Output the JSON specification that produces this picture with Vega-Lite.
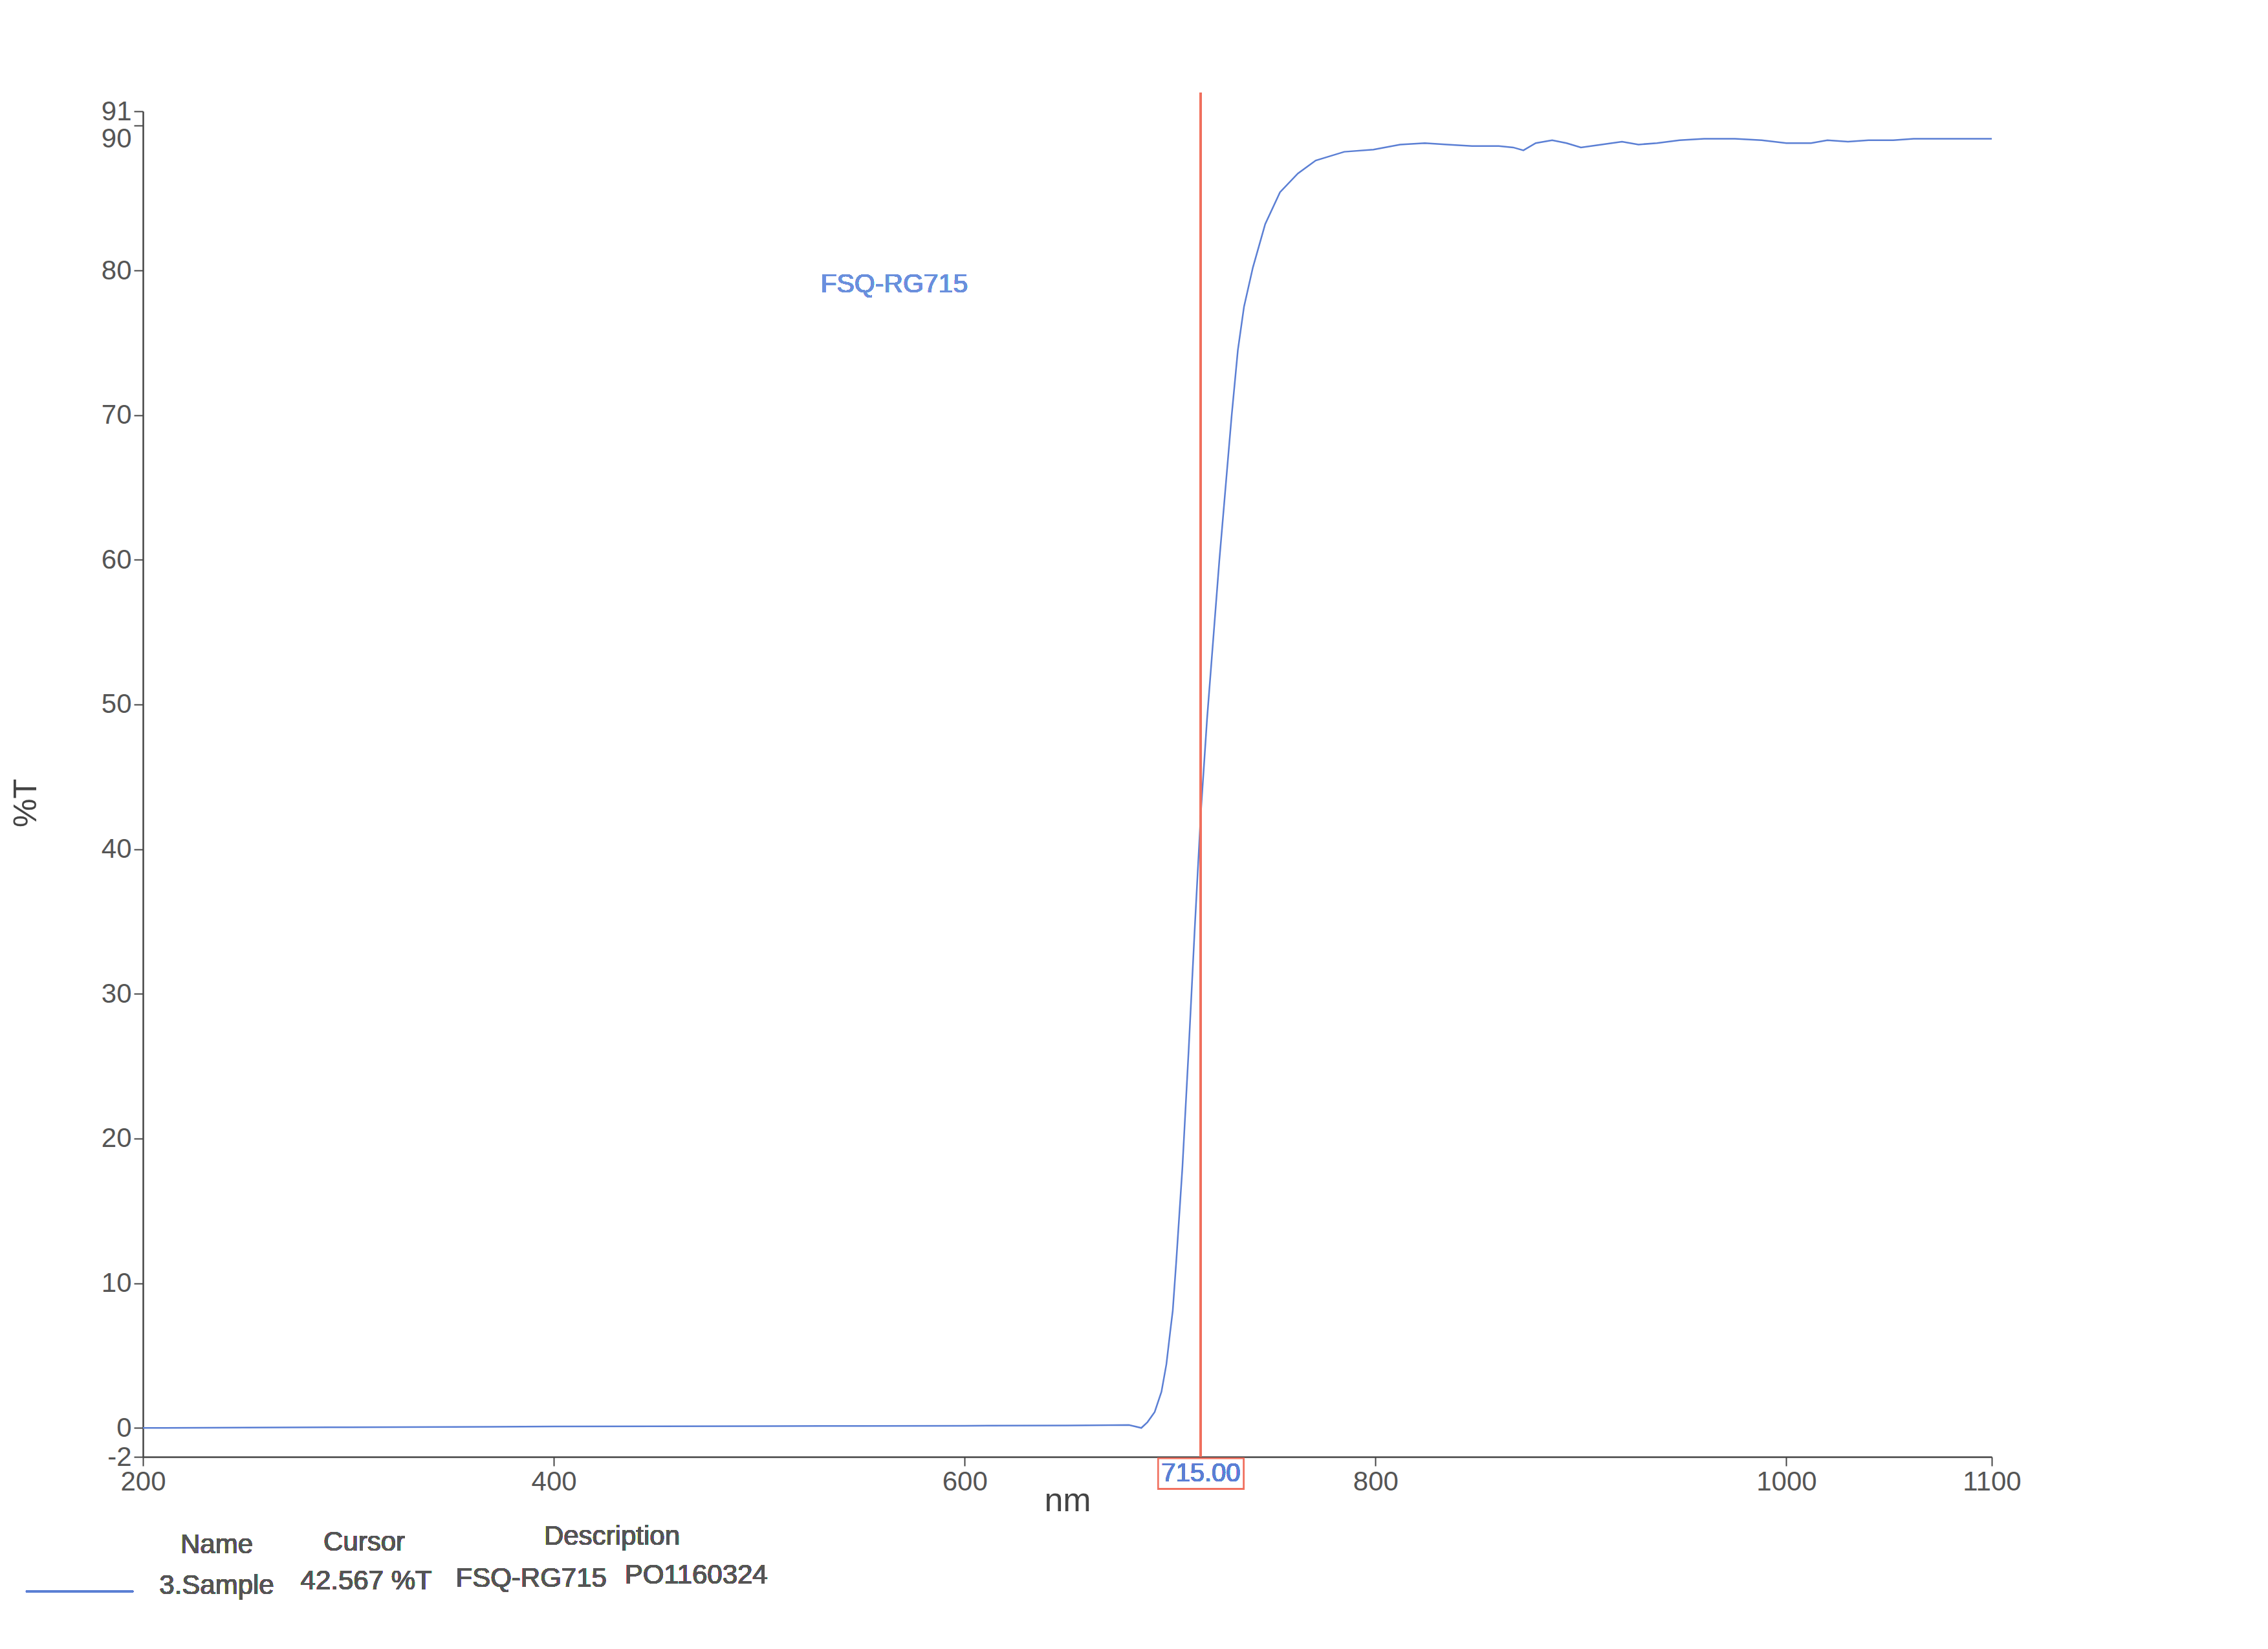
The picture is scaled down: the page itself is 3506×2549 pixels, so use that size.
{
  "$schema": "https://vega.github.io/schema/vega-lite/v6.json",
  "width": 2858,
  "height": 2080,
  "autosize": "none",
  "padding": {"left": 221, "top": 172, "right": 427, "bottom": 297},
  "background": "white",
  "config": {
    "view": {"stroke": null},
    "font": "Liberation Sans",
    "text": {"font": "Liberation Sans", "fontWeight": "normal"}
  },
  "data": {
    "values": [
      {"nm": 200, "T": 0.0}, {"nm": 250, "T": 0.02}, {"nm": 300, "T": 0.05}, {"nm": 350, "T": 0.07},
      {"nm": 400, "T": 0.1}, {"nm": 450, "T": 0.11}, {"nm": 500, "T": 0.12}, {"nm": 550, "T": 0.14},
      {"nm": 600, "T": 0.15}, {"nm": 650, "T": 0.17}, {"nm": 680, "T": 0.2}, {"nm": 683, "T": 0.1},
      {"nm": 686, "T": 0.0}, {"nm": 689, "T": 0.4}, {"nm": 692.5, "T": 1.1}, {"nm": 695.8, "T": 2.5},
      {"nm": 698.2, "T": 4.4}, {"nm": 700.1, "T": 6.7}, {"nm": 701.3, "T": 8.1}, {"nm": 703, "T": 11.5},
      {"nm": 706, "T": 18}, {"nm": 709, "T": 26}, {"nm": 712, "T": 34.5}, {"nm": 715, "T": 42.57},
      {"nm": 718, "T": 49}, {"nm": 721, "T": 54.5}, {"nm": 724, "T": 60}, {"nm": 727, "T": 65},
      {"nm": 730, "T": 70}, {"nm": 733, "T": 74.5}, {"nm": 736, "T": 77.5}, {"nm": 740.3, "T": 80.2},
      {"nm": 746.3, "T": 83.2}, {"nm": 753.5, "T": 85.4}, {"nm": 762.2, "T": 86.7}, {"nm": 770.9, "T": 87.6},
      {"nm": 784.8, "T": 88.2}, {"nm": 799, "T": 88.35}, {"nm": 812, "T": 88.7}, {"nm": 824, "T": 88.8},
      {"nm": 835, "T": 88.7}, {"nm": 847, "T": 88.6}, {"nm": 860, "T": 88.6}, {"nm": 867, "T": 88.5},
      {"nm": 872, "T": 88.3}, {"nm": 878, "T": 88.8}, {"nm": 886, "T": 89.0}, {"nm": 893, "T": 88.8},
      {"nm": 900, "T": 88.5}, {"nm": 910, "T": 88.7}, {"nm": 920, "T": 88.9}, {"nm": 928, "T": 88.7},
      {"nm": 937, "T": 88.8}, {"nm": 948, "T": 89.0}, {"nm": 960, "T": 89.1}, {"nm": 975, "T": 89.1},
      {"nm": 988, "T": 89.0}, {"nm": 1000, "T": 88.8}, {"nm": 1012, "T": 88.8}, {"nm": 1020, "T": 89.0},
      {"nm": 1030, "T": 88.9}, {"nm": 1040, "T": 89.0}, {"nm": 1052, "T": 89.0}, {"nm": 1062, "T": 89.1},
      {"nm": 1072, "T": 89.1}, {"nm": 1085, "T": 89.1}, {"nm": 1100, "T": 89.1}
    ]
  },
  "layer": [
    {
      "mark": {"type": "line", "color": "#5b7fd4", "strokeWidth": 2.5},
      "encoding": {
        "x": {
          "field": "nm", "type": "quantitative",
          "scale": {"domain": [200, 1100], "nice": false, "zero": false},
          "axis": {
            "values": [200, 400, 600, 800, 1000, 1100],
            "format": "d",
            "title": "nm",
            "titleFont": "Liberation Sans",
            "titleFontSize": 52, "titleFontWeight": "normal", "titleColor": "#444444",
            "titleY": 67, "titleBaseline": "middle",
            "labelFont": "Liberation Sans",
            "labelFontSize": 42, "labelColor": "#555555", "labelPadding": 4,
            "labelOverlap": false, "labelFlush": false,
            "tickSize": 14, "tickWidth": 2, "tickColor": "#444444",
            "domainColor": "#444444", "domainWidth": 2.5, "grid": false
          }
        },
        "y": {
          "field": "T", "type": "quantitative",
          "scale": {"domain": [-2, 91], "nice": false, "zero": false},
          "axis": {
            "values": [-2, 0, 10, 20, 30, 40, 50, 60, 70, 80, 90, 91],
            "labelExpr": "datum.value < 0 ? '-' + format(-datum.value, 'd') : format(datum.value, 'd')",
            "title": "%T",
            "titleFont": "Liberation Sans",
            "titleFontSize": 50, "titleFontWeight": "normal", "titleColor": "#444444",
            "titleX": -181, "titleY": 1069, "titleAngle": 270,
            "titleAlign": "center", "titleBaseline": "middle",
            "labelFont": "Liberation Sans",
            "labelFontSize": 42, "labelColor": "#555555", "labelPadding": 4,
            "labelOverlap": false, "labelFlush": false,
            "labelBaseline": {"condition": {"test": "datum.value == 90", "value": "top"}, "value": "middle"},
            "tickSize": 14, "tickWidth": 2, "tickColor": "#444444",
            "domainColor": "#444444", "domainWidth": 2.5, "grid": false
          }
        }
      }
    },
    {
      "mark": {"type": "rule", "color": "#f0705f", "strokeWidth": 3},
      "encoding": {
        "x": {"datum": 715, "type": "quantitative"},
        "y": {"datum": -2, "type": "quantitative"},
        "y2": {"datum": 92.3}
      }
    },
    {
      "mark": {"type": "rect", "fill": "white", "stroke": "#f0705f", "strokeWidth": 2.5},
      "encoding": {
        "x": {"datum": 694.2, "type": "quantitative"},
        "x2": {"datum": 735.8},
        "y": {"datum": -2.1, "type": "quantitative"},
        "y2": {"datum": -4.2}
      }
    },
    {
      "mark": {"type": "text", "text": "715.00", "fontSize": 40, "fontWeight": "normal", "color": "#5b7fd4", "align": "center", "baseline": "middle"},
      "encoding": {
        "x": {"datum": 715, "type": "quantitative"},
        "y": {"datum": -3.15, "type": "quantitative"}
      }
    },
    {
      "mark": {"type": "text", "text": "FSQ-RG715", "fontSize": 41, "fontWeight": "normal", "color": "#6a8fdc", "align": "center", "baseline": "middle"},
      "encoding": {
        "x": {"datum": 565.7, "type": "quantitative"},
        "y": {"datum": 79.0, "type": "quantitative"}
      }
    },
    {
      "mark": {"type": "text", "text": "Name", "fontSize": 42, "fontWeight": "normal", "color": "#555555", "align": "center", "baseline": "middle"},
      "encoding": {"x": {"datum": 235.9, "type": "quantitative"}, "y": {"datum": -8.1, "type": "quantitative"}}
    },
    {
      "mark": {"type": "text", "text": "Cursor", "fontSize": 42, "fontWeight": "normal", "color": "#555555", "align": "center", "baseline": "middle"},
      "encoding": {"x": {"datum": 307.7, "type": "quantitative"}, "y": {"datum": -7.9, "type": "quantitative"}}
    },
    {
      "mark": {"type": "text", "text": "Description", "fontSize": 42, "fontWeight": "normal", "color": "#555555", "align": "center", "baseline": "middle"},
      "encoding": {"x": {"datum": 428.3, "type": "quantitative"}, "y": {"datum": -7.5, "type": "quantitative"}}
    },
    {
      "mark": {"type": "text", "text": "3.Sample", "fontSize": 42, "fontWeight": "normal", "color": "#555555", "align": "center", "baseline": "middle"},
      "encoding": {"x": {"datum": 235.9, "type": "quantitative"}, "y": {"datum": -10.9, "type": "quantitative"}}
    },
    {
      "mark": {"type": "text", "text": "42.567 %T", "fontSize": 42, "fontWeight": "normal", "color": "#555555", "align": "center", "baseline": "middle"},
      "encoding": {"x": {"datum": 308.7, "type": "quantitative"}, "y": {"datum": -10.6, "type": "quantitative"}}
    },
    {
      "mark": {"type": "text", "text": "FSQ-RG715", "fontSize": 42, "fontWeight": "normal", "color": "#555555", "align": "center", "baseline": "middle"},
      "encoding": {"x": {"datum": 389, "type": "quantitative"}, "y": {"datum": -10.4, "type": "quantitative"}}
    },
    {
      "mark": {"type": "text", "text": "PO1160324", "fontSize": 42, "fontWeight": "normal", "color": "#555555", "align": "center", "baseline": "middle"},
      "encoding": {"x": {"datum": 469.3, "type": "quantitative"}, "y": {"datum": -10.2, "type": "quantitative"}}
    },
    {
      "mark": {"type": "rule", "color": "#5b7fd4", "strokeWidth": 2.5},
      "encoding": {
        "x": {"datum": 143, "type": "quantitative"},
        "x2": {"datum": 195.3},
        "y": {"datum": -11.3, "type": "quantitative"}
      }
    }
  ]
}
